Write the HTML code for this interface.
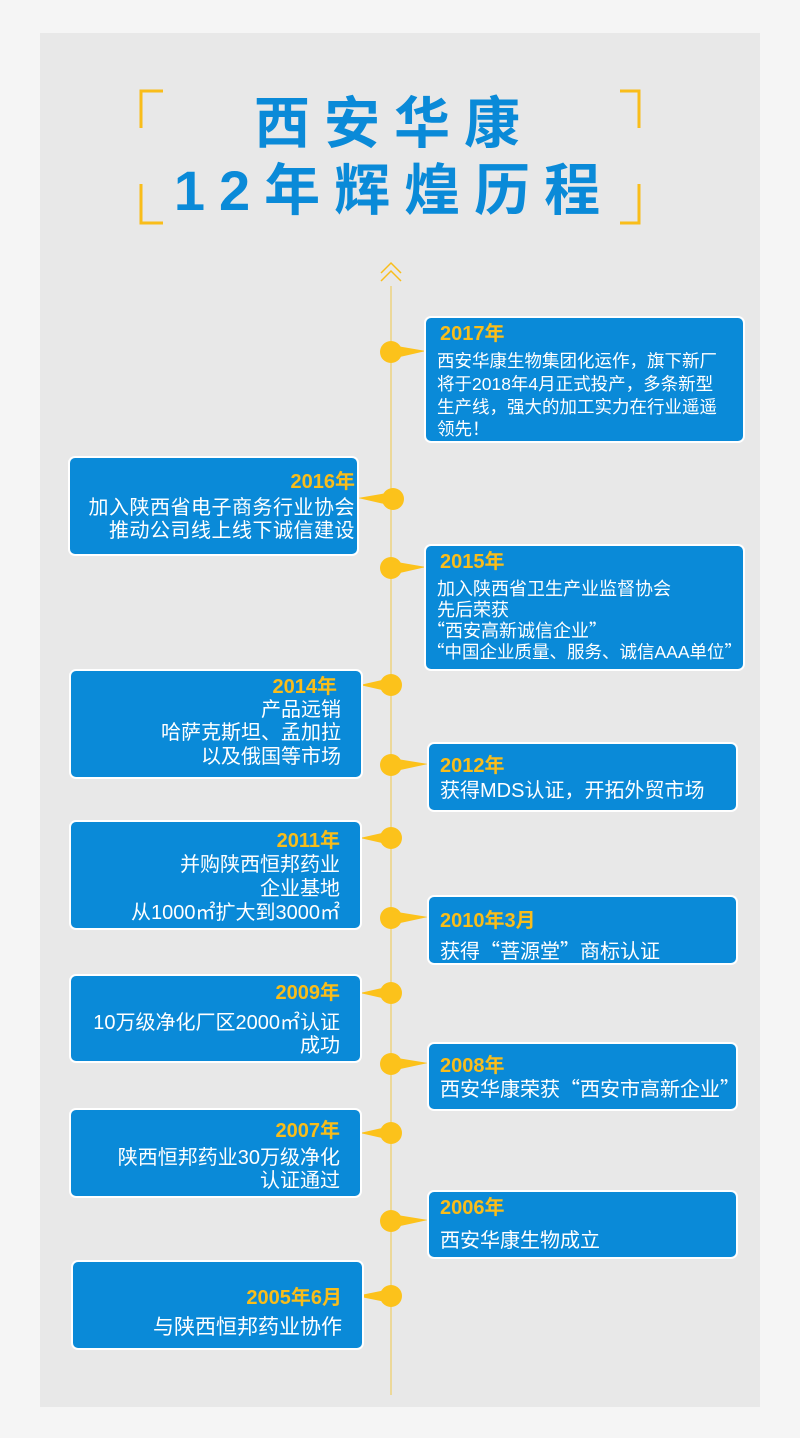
<!DOCTYPE html>
<html><head><meta charset="utf-8"><style>
body{margin:0;width:800px;height:1438px;background:#f5f5f5;position:relative;overflow:hidden;font-family:"Liberation Sans","Noto Sans CJK SC",sans-serif}
.panel{position:absolute;left:40px;top:33px;width:720px;height:1374px;background:#e8e8e8}
.b{position:absolute;background:#0a8ad8;border:2px solid #fff;border-radius:7px;box-sizing:border-box}
.l{position:absolute;height:24px;line-height:24px;color:#fff;font-size:20px;white-space:nowrap}
.y{color:#f9bd1a;font-weight:bold;font-size:20px}
.r .l{right:20px;text-align:right}
.q{font-family:"Noto Sans CJK SC",sans-serif}
.t{position:absolute;left:0;width:760px;text-align:center;color:#0a8ad8;font-weight:bold;font-size:56px;letter-spacing:14px;font-family:"Liberation Sans","Noto Sans CJK SC",sans-serif}
</style></head><body>
<div class="panel"></div>
<div class="t" style="top:89px;height:70px;line-height:70px;padding-left:14px">西安华康</div>
<div class="t" style="top:156px;height:70px;line-height:70px;padding-left:14px">12年辉煌历程</div>
<svg style="position:absolute;left:0;top:0" width="800" height="1438">
<g stroke="#f9bd1a" stroke-width="3" fill="none">
<path d="M163 91H141V128"/><path d="M141 184V223H163"/>
<path d="M620 91H639V128"/><path d="M639 184V223H620"/>
</g>
<g stroke="#f9bd1a" stroke-width="1.5" fill="none">
<path d="M381 273L391 263L401 273"/><path d="M381 281L391 271L401 281"/>
</g>
<line x1="391" y1="286" x2="391" y2="1395" stroke="#f1c84a" stroke-width="1"/>
<g fill="#fcc21b">
<circle cx="391" cy="352" r="11"/><polygon points="391,345 426,351 391,359"/>
<circle cx="393" cy="499" r="11"/><polygon points="393,492 358,498 393,506"/>
<circle cx="391" cy="568" r="11"/><polygon points="391,561 426,567 391,575"/>
<circle cx="391" cy="685" r="11"/><polygon points="391,678 360,685 391,692"/>
<circle cx="391" cy="765" r="11"/><polygon points="391,758 428,764 391,772"/>
<circle cx="391" cy="838" r="11"/><polygon points="391,831 360,838 391,845"/>
<circle cx="391" cy="918" r="11"/><polygon points="391,911 428,917 391,925"/>
<circle cx="391" cy="993" r="11"/><polygon points="391,986 360,993 391,1000"/>
<circle cx="391" cy="1064" r="11"/><polygon points="391,1057 428,1063 391,1071"/>
<circle cx="391" cy="1133" r="11"/><polygon points="391,1126 360,1133 391,1140"/>
<circle cx="391" cy="1221" r="11"/><polygon points="391,1214 428,1220 391,1228"/>
<circle cx="391" cy="1296" r="11"/><polygon points="391,1289 356,1296 391,1303"/>
</g>
</svg>

<div class="b" style="left:424px;top:316px;width:321px;height:127px">
<div class="l y" style="left:14px;top:4px">2017年</div>
<div class="l" style="left:11px;top:31px;font-size:17.5px">西安华康生物集团化运作，旗下新厂</div>
<div class="l" style="left:11px;top:54px;font-size:17.5px">将于2018年4月正式投产，多条新型</div>
<div class="l" style="left:11px;top:77px;font-size:17.5px">生产线，强大的加工实力在行业遥遥</div>
<div class="l" style="left:11px;top:99px;font-size:17.5px">领先！</div>
</div>

<div class="b r" style="left:68px;top:456px;width:291px;height:100px">
<div class="l y" style="right:2px;top:12px">2016年</div>
<div class="l" style="right:2px;top:38px;letter-spacing:0.5px">加入陕西省电子商务行业协会</div>
<div class="l" style="right:2px;top:61px;letter-spacing:0.5px">推动公司线上线下诚信建设</div>
</div>

<div class="b" style="left:424px;top:544px;width:321px;height:127px">
<div class="l y" style="left:14px;top:4px">2015年</div>
<div class="l" style="left:11px;top:31px;font-size:18px">加入陕西省卫生产业监督协会</div>
<div class="l" style="left:11px;top:52px;font-size:18px">先后荣获</div>
<div class="l" style="left:1px;top:72px;font-size:18px"><span class="q">“</span>西安高新诚信企业<span class="q">”</span></div>
<div class="l" style="left:1px;top:94px;font-size:17.5px"><span class="q">“</span>中国企业质量、服务、诚信AAA单位<span class="q">”</span></div>
</div>

<div class="b r" style="left:69px;top:669px;width:294px;height:110px">
<div class="l y" style="right:24px;top:4px">2014年</div>
<div class="l" style="top:27px">产品远销</div>
<div class="l" style="top:50px">哈萨克斯坦、孟加拉</div>
<div class="l" style="top:74px">以及俄国等市场</div>
</div>

<div class="b" style="left:427px;top:742px;width:311px;height:70px">
<div class="l y" style="left:11px;top:10px">2012年</div>
<div class="l" style="left:11px;top:35px">获得MDS认证，开拓外贸市场</div>
</div>

<div class="b r" style="left:69px;top:820px;width:293px;height:110px">
<div class="l y" style="top:7px">2011年</div>
<div class="l" style="top:31px">并购陕西恒邦药业</div>
<div class="l" style="top:55px">企业基地</div>
<div class="l" style="top:79px">从1000㎡扩大到3000㎡</div>
</div>

<div class="b" style="left:427px;top:895px;width:311px;height:70px">
<div class="l y" style="left:11px;top:12px">2010年3月</div>
<div class="l" style="left:11px;top:41px">获得<span class="q">“</span>菩源堂<span class="q">”</span>商标认证</div>
</div>

<div class="b r" style="left:69px;top:974px;width:293px;height:89px">
<div class="l y" style="top:5px">2009年</div>
<div class="l" style="top:35px">10万级净化厂区2000㎡认证</div>
<div class="l" style="top:58px">成功</div>
</div>

<div class="b" style="left:427px;top:1042px;width:311px;height:69px">
<div class="l y" style="left:11px;top:10px">2008年</div>
<div class="l" style="left:11px;top:32px">西安华康荣获<span class="q">“</span>西安市高新企业<span class="q">”</span></div>
</div>

<div class="b r" style="left:69px;top:1108px;width:293px;height:90px">
<div class="l y" style="top:9px">2007年</div>
<div class="l" style="top:36px">陕西恒邦药业30万级净化</div>
<div class="l" style="top:59px">认证通过</div>
</div>

<div class="b" style="left:427px;top:1190px;width:311px;height:69px">
<div class="l y" style="left:11px;top:4px">2006年</div>
<div class="l" style="left:11px;top:37px">西安华康生物成立</div>
</div>

<div class="b r" style="left:71px;top:1260px;width:293px;height:90px">
<div class="l y" style="top:24px">2005年6月</div>
<div class="l" style="top:54px;font-size:21px">与陕西恒邦药业协作</div>
</div>
</body></html>
